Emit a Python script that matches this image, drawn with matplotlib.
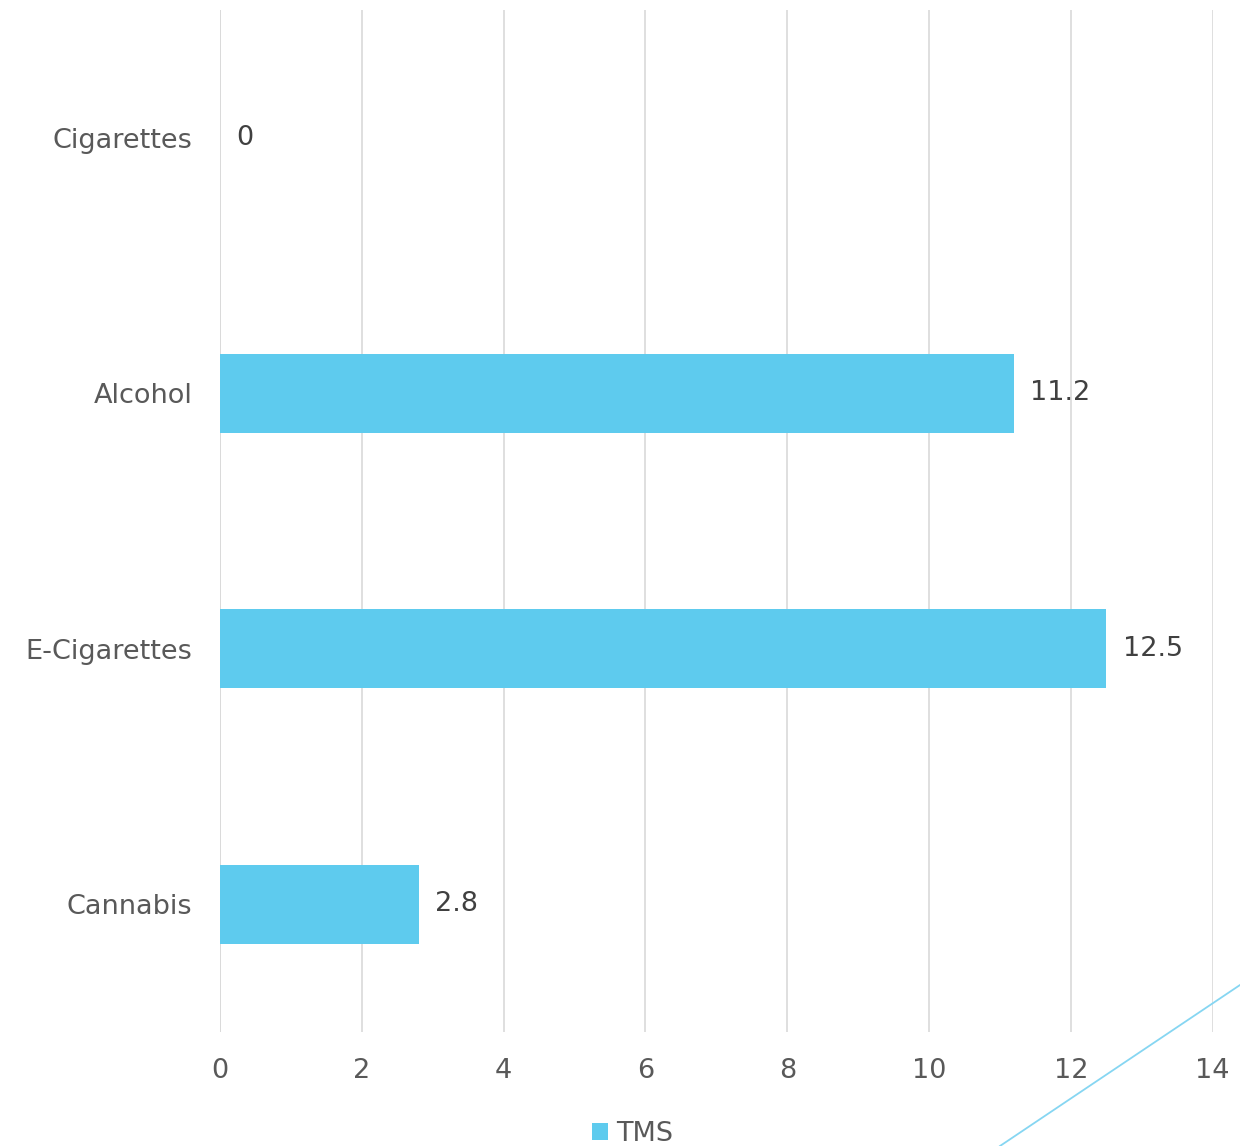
import matplotlib
matplotlib.use("Agg")
import matplotlib.pyplot as plt
from matplotlib.lines import Line2D

categories = ["Cigarettes", "Alcohol", "E-Cigarettes", "Cannabis"]
tms_values = [0, 11.2, 12.5, 2.8]
x_ticks = [0, 2, 4, 6, 8, 10, 12, 14]

bar_color = "#5ECBEE"
label_color = "#595959"
value_color = "#404040"
grid_color = "#D9D9D9"

plt.rcParams["font.family"] = ["DejaVu Sans"]
fs = 19.5

fig = plt.figure(figsize=(12.4, 11.46), dpi=100)
ax = fig.add_axes([0.1774, 0.0995, 0.8006, 0.8918])

pos = list(range(len(categories)))
bars = ax.barh(pos, tms_values, height=0.31, color=bar_color, label="TMS", zorder=3)

for p, v in zip(pos, tms_values):
    ax.text(v + 0.23, p, f"{v:g}", va="center", ha="left",
            fontsize=fs, color=value_color, zorder=4)

ax.set_xlim(0, 14)
ax.set_ylim(3.5, -0.5)
ax.set_yticks(pos)
ax.set_yticklabels(categories, fontsize=fs, color=label_color)
ax.set_xticks(x_ticks)
ax.set_xticklabels([str(t) for t in x_ticks], fontsize=fs, color=label_color)
ax.tick_params(axis="both", length=0)
ax.tick_params(axis="x", pad=19)
ax.tick_params(axis="y", pad=20)

ax.xaxis.grid(True, color=grid_color, linewidth=1.2, zorder=0)
ax.yaxis.grid(False)
for s in ax.spines.values():
    s.set_visible(False)
ax.axvline(0, color=grid_color, linewidth=1.2, zorder=1)

fig.legend(handles=[bars], labels=["TMS"], loc="lower center",
           bbox_to_anchor=(0.51, -0.022), frameon=False, fontsize=fs,
           handlelength=0.6, handleheight=0.6, handletextpad=0.3,
           labelcolor=label_color)

# decorative accent line in the lower right corner
fig.add_artist(Line2D([1000 / 1240, 1.0], [0.0, 1 - 985 / 1146],
                      transform=fig.transFigure, color="#86D6F2", linewidth=1.3))

fig.savefig("out.png", dpi=100)
